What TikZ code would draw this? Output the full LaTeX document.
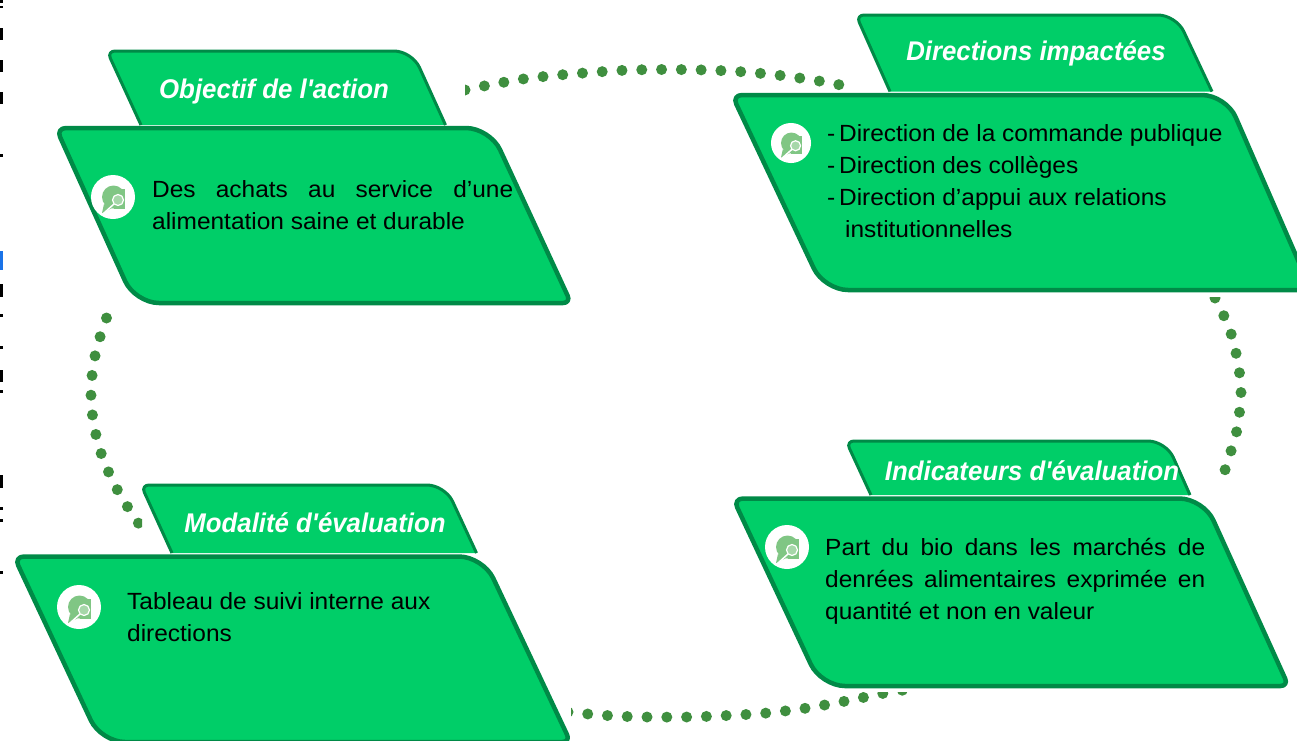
\documentclass[tikz,border=0pt]{standalone}
\usepackage{fontspec}
\newfontfamily\bodyfont[FakeStretch=1.045]{Liberation Sans}
\newfontfamily\headfont[FakeStretch=0.955]{Liberation Sans}
\usetikzlibrary{calc}
\definecolor{cardfill}{HTML}{00CE68}
\definecolor{cardedge}{HTML}{008A47}
\definecolor{dotgreen}{HTML}{3F8F3F}
\definecolor{iconfill}{HTML}{80C684}
\definecolor{linkblue}{HTML}{1A73E8}
\newcommand{\firstline}{\rule{0pt}{18pt}}
\newcommand{\dashitem}{-\hspace{-3pt} }
\newcommand{\headshape}[4]{%
  \fill[cardfill] #4 [rounded corners=8pt] -- #1 [rounded corners=18pt] -- #2 [rounded corners=0pt] -- #3 -- cycle;
  \draw[headedge] #4 [rounded corners=8pt] -- #1 [rounded corners=18pt] -- #2 [rounded corners=0pt] -- #3;}
\newcommand{\bodyshape}[4]{%
  \draw[bodycard] ($#1!0.5!#2$) [rounded corners=24pt] -- #2 [rounded corners=8pt] -- #3 [rounded corners=24pt] -- #4 [rounded corners=10pt] -- #1 [rounded corners=0pt] -- cycle;}
\newcommand{\iconmark}[4]{%
  \node[iconcircle,minimum size=#3*44pt] (#4) at (#1,#2) {};
  \begin{scope}[shift={(#4.center)},scale=#3]
    \fill[iconfill] (0.5,0) circle (11.5);
    \fill[iconfill] (0.5,-8) rectangle (12,12);
    \fill[iconfill] (-9,7) -- (-11,16) -- (-1,11) -- cycle;
    \draw[white,line width=1.2pt,fill=iconfill!70!white] (5,3) circle (5.5);
    \draw[white,line width=1.5pt] (1,7) -- (-9,16);
  \end{scope}}
\tikzset{
  x=1pt,y=-1pt,
  headedge/.style={draw=cardedge,line width=3pt,line join=round},
  bodycard/.style={draw=cardedge,fill=cardfill,line width=4.5pt,line join=round},
  iconcircle/.style={circle,fill=white,inner sep=0pt},
  headlabel/.style={font=\headfont\bfseries\itshape\fontsize{27}{30}\selectfont,text=white,inner sep=0pt,anchor=base},
  bodytext/.style={font=\bodyfont\fontsize{23.4}{32}\selectfont,text=black,inner sep=0pt,anchor=north west,align=left},
  dotline/.style={draw=dotgreen,line width=11pt,line cap=round,dash pattern=on 0pt off 19.8pt},
  clipmark/.style={fill=black},
}
\begin{document}
\begin{tikzpicture}
\useasboundingbox (0,0) rectangle (1297,740);
\clip (0,0) rectangle (1297,740);

% clipped remains of text at the left edge
\foreach \a/\b in {0/3,6/8,28/40,60/72,92/104,154/157,284/297,314/317,346/349,370/382,390/393,475/488,507/510,519/522,571/574}
  \fill[clipmark] (0,\a) rectangle (2.5,\b);
\fill[linkblue] (0,251) rectangle (3,270);

% dotted connectors
\coordinate (topA) at (465,90);
\coordinate (topB) at (845,86);
\begin{scope}
  \clip (465,0) rectangle (1297,200);
  \draw[dotline] plot[smooth] coordinates {(topA) (484,86) (523,79) (563,74.7) (620,70.5) (660,69.5) (705,70) (745,72) (785,76) (825,82) (topB)};
\end{scope}
\coordinate (rightA) at (1215,298);
\coordinate (rightB) at (1225,470);
\begin{scope}
  \clip (1150,297) rectangle (1297,500);
  \draw[dotline] plot[smooth] coordinates {(rightA) (1223.5,315) (1231,333.5) (1236,353) (1239.5,373) (1241,392.5) (1239.5,412) (1236.5,432) (1231,451) (rightB)};
\end{scope}
\coordinate (leftA) at (106.5,318);
\coordinate (leftB) at (139,524);
\begin{scope}
  \clip (50,300) rectangle (142,560);
  \draw[dotline] plot[smooth] coordinates {(leftA) (100,337) (95,356) (92,376) (91,396) (92.5,415.5) (96,435) (101.5,454.5) (109,473) (118,491) (128,507.5) (leftB)};
\end{scope}
\coordinate (botA) at (568,712);
\coordinate (botB) at (904,690);
\begin{scope}
  \clip (571,692) rectangle (1000,740);
  \draw[dotline] plot[smooth] coordinates {(botA) (588,714) (607,715.5) (627,716.5) (647,717) (687,717) (727,715.5) (767,713) (807,708) (846,701) (885,693) (botB)};
\end{scope}

% cards
\headshape{(107,51)}{(412,51)}{(445.5,125)}{(141,125)}
\bodyshape{(56,128)}{(490,128)}{(571,303)}{(135,303)}
\headshape{(856,15)}{(1176,15)}{(1212,91.5)}{(890,91.5)}
\bodyshape{(732,95)}{(1226,95)}{(1311,290)}{(824,290)}
\headshape{(846,441)}{(1166,441)}{(1190,495)}{(871,495)}
\bodyshape{(733,498.5)}{(1203.5,498.5)}{(1288.5,686)}{(821,686)}
\headshape{(141,485)}{(445,485)}{(476.5,553)}{(172,553)}
\bodyshape{(14,556.5)}{(483,556.5)}{(570.5,742)}{(101,742)}

% headers
\node[headlabel] (h1) at (274,98.5) {Objectif de l'action};
\node[headlabel] (h2) at (1036,60.5) {Directions impactées};
\node[headlabel] (h3) at (1032,480.5) {Indicateurs d'évaluation};
\node[headlabel] (h4) at (315,532.5) {Modalité d'évaluation};

% icons
\iconmark{113}{197}{1}{i1}
\iconmark{791}{143}{0.91}{i2}
\iconmark{787}{547}{1}{i3}
\iconmark{79}{607}{1}{i4}

% body text
\node[bodytext] (t1) at (152,179) {\firstline\makebox[361pt][s]{Des achats au service d’une}\\alimentation saine et durable};
\node[bodytext] (t2) at (827,123) {\firstline\dashitem Direction de la commande publique\\\dashitem Direction des collèges\\\dashitem Direction d’appui aux relations\\\hspace*{18pt}institutionnelles};
\node[bodytext] (t3) at (825,537) {\firstline\makebox[380pt][s]{Part du bio dans les marchés de}\\\makebox[380pt][s]{denrées alimentaires exprimée en}\\quantité et non en valeur};
\node[bodytext] (t4) at (127,591) {\firstline Tableau de suivi interne aux\\directions};
\end{tikzpicture}
\end{document}
